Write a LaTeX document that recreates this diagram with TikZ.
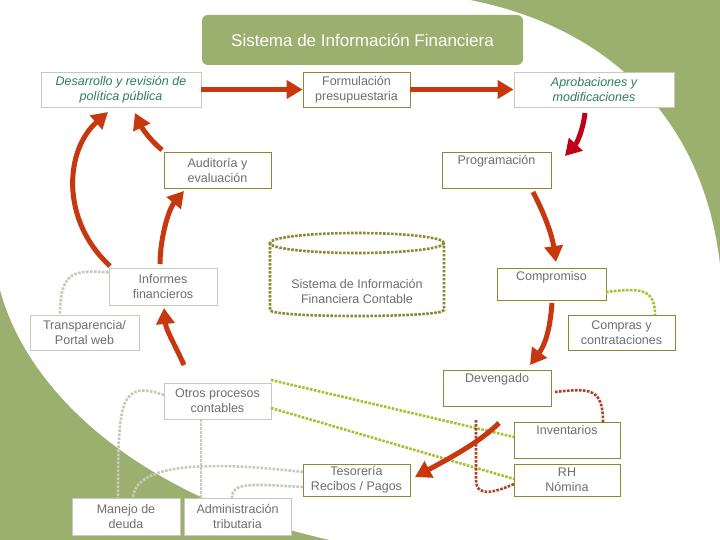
\documentclass[tikz,border=0pt]{standalone}
\usepackage{fontspec}
\setmainfont{Liberation Sans}
\usetikzlibrary{arrows.meta,shapes.geometric}
\definecolor{bggreen}{HTML}{9BAF6F}
\definecolor{olive}{HTML}{8A8A30}
\definecolor{lgray}{HTML}{C8C8C0}
\definecolor{tgray}{HTML}{6E6E6E}
\definecolor{teal}{HTML}{2E7D5E}
\definecolor{ared}{HTML}{C8380E}
\definecolor{dred}{HTML}{C00018}
\definecolor{lgreen}{HTML}{A8C030}
\definecolor{brred}{HTML}{B04020}
\definecolor{dgray}{HTML}{C8C8BC}
\begin{document}
\begin{tikzpicture}[x=1pt,y=-1pt,
 box/.style={draw=olive,line width=0.8pt,fill=white,text=tgray,font=\fontsize{12.5}{15}\selectfont,align=center,inner sep=0pt},
 gbox/.style={box,draw=lgray},
 top/.style={anchor=north,inner ysep=2pt,text height=10pt,text depth=#1},
 big/.style={draw=ared,line width=5pt,-{Triangle[length=16pt,width=18pt]}},
 dot/.style={line width=2.6pt,dash pattern=on 2.6pt off 1.4pt},
]
\useasboundingbox (0,0) rectangle (720,540);
\fill[bggreen] (0,0) rectangle (720,540);
\fill[white] (0,0) -- (470,0) .. controls (620,30) and (705,130) .. (720,265) -- (720,540) -- (330,540) .. controls (150,500) and (30,400) .. (0,290) -- cycle;

\node[fill=bggreen,rounded corners=6pt,text=white,font=\fontsize{17}{20}\selectfont,minimum width=321pt,minimum height=50pt] (t) at (362.5,40) {Sistema de Información Financiera};

\node[gbox,text=teal,font=\fontsize{12.5}{15}\selectfont\itshape,minimum width=160pt,minimum height=35pt] (des) at (121,89.5) {Desarrollo y revisión de\\política pública};
\node[box,minimum width=107pt,minimum height=35pt] (for) at (356.5,89.5) {Formulación\\presupuestaria};
\node[gbox,text=teal,font=\fontsize{12.5}{15}\selectfont\itshape,minimum width=160pt,minimum height=35pt] (apr) at (594,89.5) {Aprobaciones y\\modificaciones};
\node[box,minimum width=107pt,minimum height=36pt] (aud) at (217.5,170) {Auditoría y\\evaluación};
\node[box,minimum width=109pt,top=22pt] (pro) at (496.5,152) {Programación};
\node[gbox,minimum width=108pt,minimum height=37pt] (inf) at (163,286.5) {Informes\\financieros};
\node[box,minimum width=109pt,top=18pt] (com) at (551.5,268) {Compromiso};
\node[gbox,minimum width=109pt,minimum height=35pt] (tra) at (84.5,332.5) {Transparencia/\\Portal web};
\node[box,minimum width=107pt,minimum height=35pt] (cmp) at (621.5,332.5) {Compras y\\contrataciones};
\node[gbox,minimum width=107pt,minimum height=36pt] (otr) at (217.5,401) {Otros procesos\\contables};
\node[box,minimum width=108pt,top=22pt] (dev) at (497,370) {Devengado};
\node[box,minimum width=106pt,top=22pt] (inv) at (567,422) {Inventarios};
\node[box,minimum width=107pt,minimum height=32pt] (tes) at (356.5,480) {Tesorería\\Recibos / Pagos};
\node[box,minimum width=106pt,minimum height=32pt] (rh) at (567,480) {RH\\Nómina};
\node[gbox,minimum width=108pt,minimum height=37pt] (man) at (126,516.5) {Manejo de\\deuda};
\node[gbox,minimum width=107pt,minimum height=37pt] (adm) at (237.5,516.5) {Administración\\tributaria};

% cylinder
\draw[olive,dot] (270,243) -- (270,310) .. controls (270,318) and (444,318) .. (444,310) -- (444,243);
\draw[olive,dot] (357,243) ellipse (87pt and 10pt);
\node[text=tgray,font=\fontsize{12.5}{15}\selectfont,align=center] (sif) at (357,291) {Sistema de Información\\Financiera Contable};

% dotted connectors
\draw[dgray,dot] (inf.west) ++(0,-14) .. controls (75,270) and (60,270) .. (60,315);
\draw[lgreen,dot] (606,292) .. controls (640,288) and (655,288) .. (655,315);
\draw[lgreen,dot] (271,380) -- (514,437);
\draw[lgreen,dot] (271,408) -- (514,479);
\draw[brred,dot] (555,392) .. controls (590,388) and (603,388) .. (603,422);
\draw[brred,dot] (476,420) -- (476,480) .. controls (476,500) and (500,490) .. (514,484);
\draw[dgray,dot] (164,395) .. controls (120,380) and (118,400) .. (118,498);
\draw[dgray,dot] (201,419) -- (201,498);
\draw[dgray,dot] (303,472) .. controls (200,460) and (135,465) .. (133,498);
\draw[dgray,dot] (303,487) .. controls (250,484) and (232,482) .. (232,498);

% big arrows
\draw[big] (des.east) -- (for.west);
\draw[big] (for.east) -- (apr.west);
\draw[big,draw=dred] (585,113) .. controls (583,130) and (577,143) .. (565,156);
\draw[big] (533,192) .. controls (545,215) and (552,235) .. (556,262);
\draw[big] (552,303) .. controls (550,330) and (545,345) .. (530,365);
\draw[big] (184,365) .. controls (175,345) and (166,330) .. (164,308);
\draw[big] (160,264) .. controls (160,240) and (168,210) .. (184,191);
\draw[big] (110,266) .. controls (60,220) and (65,150) .. (108,112);
\draw[big] (162,150) .. controls (150,140) and (142,128) .. (135,113);
\draw[big] (499,423) .. controls (480,442) and (450,458) .. (415,477);
\end{tikzpicture}
\end{document}
